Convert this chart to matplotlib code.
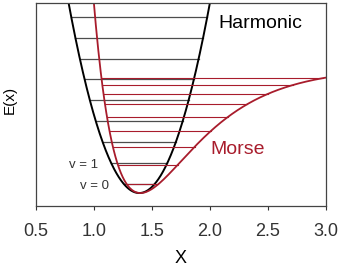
import numpy as np
import matplotlib
matplotlib.use("Agg")
import matplotlib.pyplot as plt

plt.rcParams['font.family'] = ['Liberation Sans', 'DejaVu Sans']

# energy levels (units of the harmonic spacing)
harmonic_levels = [0.43, 1.44, 2.44, 3.44, 4.45, 5.45, 6.41, 7.42, 8.42]
morse_levels = [0.43, 1.34, 2.22, 2.97, 3.64, 4.24, 4.74, 5.17, 5.50]

# potential parameters estimated from the curves
harm_x0 = 1.39
harm_k = 24.5
morse_re = 1.40
morse_De = 6.0
morse_a = 2.0

xticks = [0.5, 1.0, 1.5, 2.0, 2.5, 3.0]

red = '#a81c2c'


def harmonic(x):
    return harm_k * (x - harm_x0) ** 2


def morse(x):
    return morse_De * (1 - np.exp(-morse_a * (x - morse_re))) ** 2


fig = plt.figure(figsize=(3.41, 2.70), dpi=100)
ax = fig.add_axes([0.1056, 0.237, 0.8504, 0.752])

# harmonic levels between the two branches
for e in harmonic_levels:
    w = np.sqrt(e / harm_k)
    ax.plot([harm_x0 - w, harm_x0 + w], [e, e], color='#4d4d4d', lw=0.9)

xh = np.linspace(0.6, 2.2, 400)
ax.plot(xh, harmonic(xh), color='black', lw=1.4)

# morse levels between the two branches
for e in morse_levels:
    s = np.sqrt(e / morse_De)
    left = morse_re - np.log(1 + s) / morse_a
    right = min(morse_re - np.log(1 - s) / morse_a, 3.0)
    ax.plot([left, right], [e, e], color=red, lw=0.8)

xm = np.linspace(0.9, 3.0, 400)
ax.plot(xm, morse(xm), color=red, lw=1.3)

ax.text(2.07, 8.09, 'Harmonic', fontsize=14, ha='left', va='center')
ax.text(2.0, 2.06, 'Morse', fontsize=14, ha='left', va='center', color=red)
ax.text(0.784, 1.34, 'v = 1', fontsize=9.5, ha='left', va='center', color='#333333')
ax.text(0.879, 0.36, 'v = 0', fontsize=9.5, ha='left', va='center', color='#333333')

ax.set_xlim(0.5, 3.0)
ax.set_ylim(-0.62, 9.09)
ax.set_xticks(xticks)
ax.set_xticklabels([f'{t:.1f}' for t in xticks], fontsize=13)
ax.set_yticks([])
ax.tick_params(axis='x', direction='out', length=3, width=0.8, pad=9, colors='#333333')
for sp in ax.spines.values():
    sp.set_color('#444444')
    sp.set_linewidth(0.9)

ax.set_xlabel('X', fontsize=13)
ax.set_ylabel('E(x)', fontsize=11)
ax.xaxis.set_label_coords(0.5, -0.215)
ax.yaxis.set_label_coords(-0.068, 0.52)

fig.savefig('out.png', dpi=100)
